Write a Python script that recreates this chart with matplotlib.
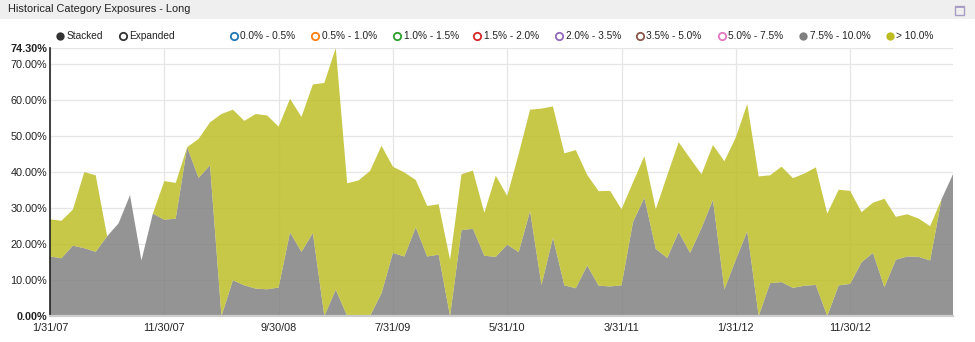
import numpy as np
import pandas as pd
import matplotlib
matplotlib.use('Agg')
import matplotlib.pyplot as plt
from matplotlib.patches import Rectangle

plt.rcParams['font.family'] = ['Liberation Sans', 'DejaVu Sans']

# month-end dates, Jan 2007 .. Aug 2013
dates = pd.date_range('2007-01-31', periods=80, freq='ME')

# 7.5% - 10.0% bucket (bottom layer)
band_75_100 = [16.5, 16.0, 19.5, 18.8, 17.8, 22.1, 25.7, 33.5, 15.4, 28.4,
               26.7, 27.0, 46.8, 38.3, 41.8, 0.0, 9.9, 8.5, 7.6, 7.4,
               7.9, 23.2, 17.8, 23.0, 0.0, 7.3, 0.0, 0.0, 0.0, 6.3,
               17.5, 16.5, 24.6, 16.5, 17.0, 0.0, 23.8, 24.2, 16.7, 16.4,
               19.8, 17.7, 29.1, 8.6, 21.7, 8.5, 7.7, 14.0, 8.4, 8.2,
               8.5, 26.0, 32.8, 18.6, 16.1, 23.3, 17.5, 24.4, 32.2, 7.4,
               15.6, 23.5, 0.0, 9.1, 9.4, 7.8, 8.4, 8.6, 0.0, 8.5,
               8.9, 14.9, 17.5, 8.0, 15.6, 16.5, 16.4, 15.4, 32.4, 39.3]

# > 10.0% bucket (stacked on top)
band_gt_100 = [10.3, 10.4, 10.0, 21.1, 21.2, 0.0, 0.0, 0.0, 0.0, 0.0,
               10.7, 9.9, 0.0, 10.8, 11.9, 56.0, 47.3, 45.6, 48.4, 48.2,
               44.6, 37.0, 37.4, 41.2, 64.6, 67.0, 36.8, 37.6, 40.2, 40.9,
               23.9, 23.3, 13.1, 14.0, 14.0, 15.6, 15.5, 16.1, 11.9, 22.5,
               13.5, 27.2, 28.1, 48.9, 36.4, 36.6, 38.3, 25.1, 26.2, 26.5,
               21.1, 11.0, 11.5, 11.0, 22.9, 24.9, 26.2, 14.9, 15.2, 35.5,
               33.9, 35.3, 38.7, 29.9, 32.0, 30.4, 31.1, 32.6, 28.4, 26.5,
               25.8, 13.9, 13.9, 24.5, 11.9, 11.7, 10.6, 9.5, 0.0, 0.0]

y_max = 74.30
y_ticks = [0, 10, 20, 30, 40, 50, 60, 70]

legend_labels = ['0.0% - 0.5%', '0.5% - 1.0%', '1.0% - 1.5%', '1.5% - 2.0%',
                 '2.0% - 3.5%', '3.5% - 5.0%', '5.0% - 7.5%', '7.5% - 10.0%', '> 10.0%']
legend_colors = ['#1f77b4', '#ff7f0e', '#2ca02c', '#d62728', '#9467bd',
                 '#8c564b', '#e377c2', '#7f7f7f', '#bcbd22']
legend_filled = [False] * 7 + [True, True]

W, H = 975, 342
fig = plt.figure(figsize=(W / 100, H / 100), dpi=100)

# title bar
bar = fig.add_axes([0, 1 - 19 / H, 1, 19 / H])
bar.set_xlim(0, W)
bar.set_ylim(0, 19)
bar.axis('off')
bar.add_patch(Rectangle((0, 0), W, 19, color='#efefef'))
bar.text(8, 9.5, 'Historical Category Exposures - Long', fontsize=7.9,
         color='#222222', va='center', ha='left')
bar.add_patch(Rectangle((955, 4.5), 9, 9, fill=False, ec='#a89ec4', lw=1.0))
bar.add_patch(Rectangle((955, 11.5), 9, 2, color='#a89ec4', lw=0))

# plot area
x = np.arange(len(dates))
ax = fig.add_axes([50 / W, (H - 316) / H, 903 / W, 268 / H])
ax.stackplot(x, band_75_100, band_gt_100,
             colors=['#7f7f7f', '#bcbd22'], alpha=0.83, lw=0)
ax.set_xlim(0, len(dates) - 1)
ax.set_ylim(0, y_max)

ax.set_yticks(y_ticks + [y_max])
ylabels = ['%.2f%%' % v for v in y_ticks] + ['%.2f%%' % y_max]
ax.set_yticklabels(ylabels, fontsize=7.8, color='#222222')
ax.get_yticklabels()[-1].set_fontweight('bold')
ax.get_yticklabels()[0].set_fontweight('bold')

xt = x[::10]
ax.set_xticks(xt)
ax.set_xticklabels(['%d/%d/%s' % (d.month, d.day, d.strftime('%y')) for d in dates[::10]],
                   fontsize=7.8, color='#222222')
ax.tick_params(length=0, pad=2)
ax.tick_params(axis='x', pad=5)

ax.grid(True, color='#e6e6e6', lw=0.9)
ax.set_axisbelow(True)
for s in ['top', 'right']:
    ax.spines[s].set_visible(False)
ax.spines['left'].set_color('#222222')
ax.spines['left'].set_linewidth(1.2)
ax.spines['bottom'].set_color('#cccccc')
ax.spines['bottom'].set_linewidth(1.6)

# legend row
leg = fig.add_axes([0, 0, 1, 1], facecolor='none')
leg.set_xlim(0, W)
leg.set_ylim(H, 0)
leg.axis('off')
ly = 36
leg.scatter([60], [ly], s=36, color='#333333', lw=0, zorder=3)
leg.text(66.5, ly, 'Stacked', fontsize=7.3, va='center', color='#222222')
leg.scatter([123], [ly], s=28, facecolor='white', edgecolor='#333333', lw=1.3, zorder=3)
leg.text(129.5, ly, 'Expanded', fontsize=7.3, va='center', color='#222222')
leg_x = [234, 315, 397, 477, 559, 640, 722, 803, 890]
for lx, lab, col, filled in zip(leg_x, legend_labels, legend_colors, legend_filled):
    if filled:
        leg.scatter([lx], [ly], s=36, color=col, lw=0, zorder=3)
    else:
        leg.scatter([lx], [ly], s=28, facecolor='white', edgecolor=col, lw=1.3, zorder=3)
    leg.text(lx + 6.5, ly, lab, fontsize=7.3, va='center', color='#222222')

fig.savefig('out.png', dpi=100)
